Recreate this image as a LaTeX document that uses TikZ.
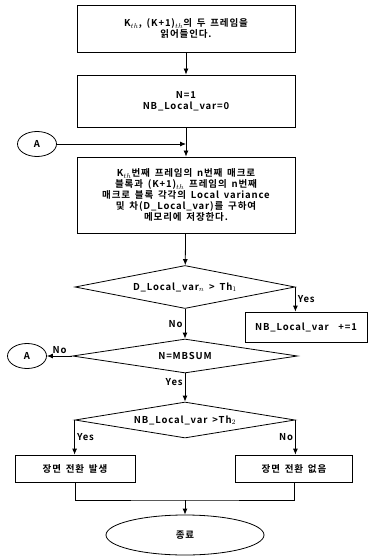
\documentclass[tikz,border=0pt]{standalone}
\usepackage{fontspec}
\setmainfont{Noto Sans CJK KR}[BoldFont={Noto Sans CJK KR Bold}]
\newfontfamily\chartfont{Noto Sans CJK KR Bold}[LetterSpace=9,WordSpace=1.6]
\usepackage{tikz}
\usetikzlibrary{arrows.meta,positioning,shapes.geometric}

\begin{document}
\begin{tikzpicture}
  [
    x=1pt, y=-1pt,
    >={Latex[length=6pt,width=5pt]},
    every node/.style={font=\chartfont\fontsize{9.5}{11}\selectfont},
    process/.style={rectangle,draw,thick,align=center,inner sep=0pt},
    decision/.style={diamond,draw,thick,inner sep=0pt,aspect=5},
    connector/.style={ellipse,draw,thick,inner sep=0pt,minimum width=39pt,minimum height=25pt},
    lbl/.style={inner sep=2pt}
  ]
  \useasboundingbox (0,0) rectangle (373,556);
  \node[process,minimum width=218pt,minimum height=47pt] (read frames) at (186,28.5)
    {K$_{th}$, (K+1)$_{th}$의 두 프레임을\\읽어들인다.};
  \node[process,minimum width=218pt,minimum height=52pt] (init) at (186,101)
    {N=1\\NB\_Local\_var=0};
  \node[connector] (A in) at (37,144) {A};
  \coordinate (join) at (186,144);
  \node[process,minimum width=218pt,minimum height=76pt] (compute) at (186,195)
    {K$_{th}$번째 프레임의 n번째 매크로\\블록과 (K+1)$_{th}$ 프레임의 n번째\\매크로 블록 각각의 Local variance\\및 차(D\_Local\_var)를 구하여\\메모리에 저장한다.};
  \node[decision,minimum width=220pt,minimum height=43pt] (check var) at (185,287)
    {D\_Local\_var$_n$ > Th$_1$};
  \node[process,minimum width=122pt,minimum height=30pt] (count) at (306,327)
    {NB\_Local\_var\ \ +=1};
  \node[decision,minimum width=225pt,minimum height=34pt] (check end) at (185,356)
    {N=MBSUM};
  \node[connector] (A out) at (27,356) {A};
  \node[decision,minimum width=220pt,minimum height=36pt] (check change) at (185,420)
    {NB\_Local\_var >Th$_2$};
  \node[process,minimum width=120pt,minimum height=27pt] (change yes) at (75,468.5)
    {장면 전환 발생};
  \node[process,minimum width=117pt,minimum height=27pt] (change no) at (294,468.5)
    {장면 전환 없음};
  \coordinate (merge) at (185,500);
  \node[ellipse,draw,thick,minimum width=158pt,minimum height=40pt,inner sep=0pt] (end) at (185,535) {종료};

  \draw[->,thick] (read frames) -- (init);
  \draw[->,thick] (init) -- (compute);
  \draw[->,thick] (A in) -- (join);
  \draw[->,thick] (compute) -- (check var);
  \draw[->,thick] (check var.east) -- (check var.east |- count.north)
    node[lbl,midway,right] (yes var) {Yes};
  \draw[->,thick] (check var) -- (check end)
    node[lbl,midway,left] (no var) {No};
  \draw[->,thick] (check end.west) -- (A out)
    node[lbl,midway,above] (no end) {No};
  \draw[->,thick] (check end) -- (check change)
    node[lbl,pos=0.3,left] (yes end) {Yes};
  \draw[->,thick] (check change.west) -- (check change.west |- change yes.north)
    node[lbl,midway,right] (yes change) {Yes};
  \draw[->,thick] (check change.east) -- (check change.east |- change no.north)
    node[lbl,midway,left] (no change) {No};
  \draw[thick] (change yes) |- (merge) -| (change no);
  \draw[->,thick] (merge) -- (end);
\end{tikzpicture}
\end{document}
